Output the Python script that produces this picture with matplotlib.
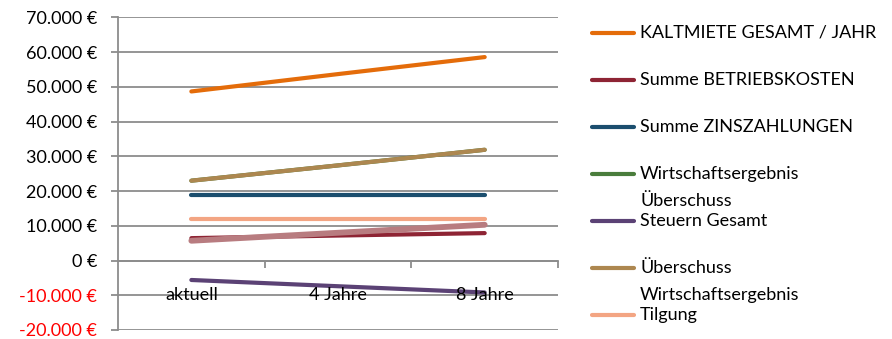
import matplotlib.pyplot as plt
from matplotlib.lines import Line2D
from matplotlib.ticker import FuncFormatter, FixedLocator

plt.rcParams['font.family'] = ['Lato', 'DejaVu Sans']

# Daten
kategorien = ["aktuell", "4 Jahre", "8 Jahre"]
kaltmiete = [48700, 53700, 58600]
betriebskosten = [6450, 7200, 7900]
zinszahlungen = [18900, 18900, 18900]
wirtschaftsergebnis = [23000, 27400, 31900]
steuern = [-5600, -7400, -9200]
ueberschuss = [23000, 27400, 31900]
tilgung = [12000, 12000, 12000]
ohne_legende = [5700, 8000, 10300]

serien = [
    ("KALTMIETE GESAMT / JAHR", kaltmiete, "#E46C0A"),
    ("Summe BETRIEBSKOSTEN", betriebskosten, "#8E2434"),
    ("Summe ZINSZAHLUNGEN", zinszahlungen, "#1B4E6E"),
    ("Wirtschaftsergebnis\nÜberschuss", wirtschaftsergebnis, "#4A7D3C"),
    ("Steuern Gesamt", steuern, "#5B4275"),
    ("Überschuss\nWirtschaftsergebnis", ueberschuss, "#AD8750"),
    ("Tilgung", tilgung, "#F3A583"),
]

fs = 13

fig = plt.figure(figsize=(8.92, 3.39), dpi=100)
ax = fig.add_axes([0.1323, 0.0266, 0.4933, 0.9218])

x = list(range(len(kategorien)))
for name, werte, farbe in serien:
    ax.plot(x, werte, color=farbe, lw=3.0, solid_capstyle="round", zorder=3)
# Linie ohne Legendeneintrag
ax.plot(x, ohne_legende, color="#B87C80", lw=4.2, solid_capstyle="round", zorder=3)

ax.set_xlim(-0.5, 2.5)
ax.set_ylim(-20000, 70000)

grau = "#8C8C8C"
ax.yaxis.set_major_locator(FixedLocator(range(-20000, 70001, 10000)))
ax.grid(axis="y", color=grau, lw=1.3, zorder=1)
ax.set_axisbelow(True)


def euro(v, pos):
    s = f"{abs(int(v)):,}".replace(",", ".")
    return ("-" if v < 0 else "") + s + " €"


ax.yaxis.set_major_formatter(FuncFormatter(euro))
ax.tick_params(axis="y", length=5, width=1.3, color=grau, labelsize=fs, pad=10)

for sp in ["top", "right"]:
    ax.spines[sp].set_visible(False)
ax.spines["left"].set_color(grau)
ax.spines["left"].set_linewidth(1.3)
ax.spines["bottom"].set_position(("data", 0))
ax.spines["bottom"].set_color(grau)
ax.spines["bottom"].set_linewidth(1.3)

ax.xaxis.set_major_locator(FixedLocator([0.5, 1.5, 2.5]))
ax.set_xticklabels([])
ax.tick_params(axis="x", length=5, width=1.3, color=grau, direction="out")
for i, k in enumerate(kategorien):
    ax.text(i, -10000, k, ha="center", va="center", fontsize=fs, zorder=4)

fig.canvas.draw()
for lab in ax.get_yticklabels():
    if lab.get_text().startswith("-"):
        lab.set_color("red")

# Legende
y0 = 1 - 33 / 339
dy = 47 / 339
zeile = 26.5 / 339
for i, (name, werte, farbe) in enumerate(serien):
    y = y0 - i * dy
    fig.add_artist(Line2D([592 / 892, 634 / 892], [y, y], color=farbe, lw=3.0,
                          solid_capstyle="round", transform=fig.transFigure))
    for j, teil in enumerate(name.split("\n")):
        fig.text(640 / 892, y - j * zeile, teil, ha="left", va="center", fontsize=fs)

fig.savefig("out.png", dpi=100)
